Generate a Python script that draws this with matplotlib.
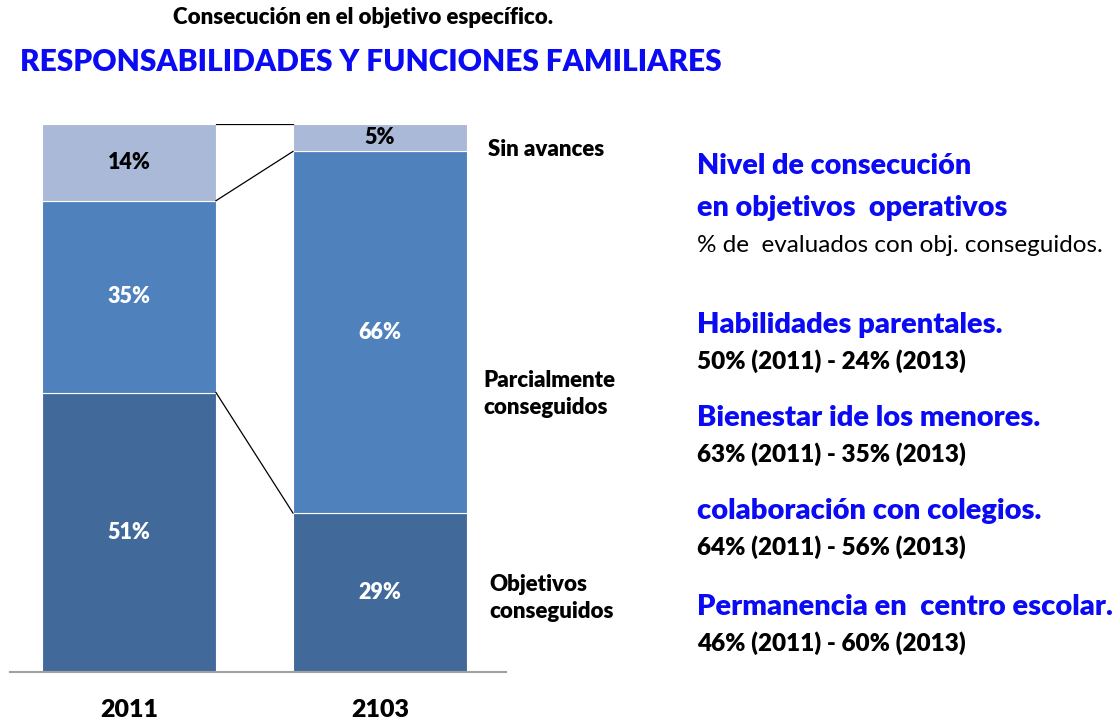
import matplotlib
matplotlib.use('Agg')
import matplotlib.pyplot as plt
import numpy as np

plt.rcParams['font.family'] = ['Lato', 'DejaVu Sans']
BW = 'heavy'

years = ['2011', '2103']
conseguidos = [51, 29]
parcial = [35, 66]
sin_avances = [14, 5]

c_dark = '#416A9B'
c_mid = '#4F81BD'
c_light = '#AAB9D7'
blue = '#0A0AF5'

W, H = 1120, 720
fig = plt.figure(figsize=(11.2, 7.2), dpi=100)

# axes for the stacked bars (pixel box: x 10..506, y 124..672)
ax = fig.add_axes([10 / W, (H - 672) / H, 496 / W, 548 / H])
x = np.arange(len(years))
bw = 0.693
s1 = np.array(conseguidos)
s2 = np.array(parcial)
s3 = np.array(sin_avances)
ax.bar(x, s1, bw, color=c_dark, edgecolor='white', linewidth=0.8)
ax.bar(x, s2, bw, bottom=s1, color=c_mid, edgecolor='white', linewidth=0.8)
ax.bar(x, s3, bw, bottom=s1 + s2, color=c_light, edgecolor='white', linewidth=0.8)

# lineas que unen las barras
for lvl in [s1, s1 + s2, s1 + s2 + s3]:
    ax.plot([x[0] + bw / 2, x[1] - bw / 2], [lvl[0], lvl[1]], color='black', lw=0.9)

for i in range(len(x)):
    ax.text(x[i], s1[i] / 2, f'{s1[i]}%', ha='center', va='center',
            color='white', fontsize=15.5, fontweight=BW)
    ax.text(x[i], s1[i] + s2[i] / 2, f'{s2[i]}%', ha='center', va='center',
            color='white', fontsize=15.5, fontweight=BW)
    ax.text(x[i], s1[i] + s2[i] + s3[i] / 2, f'{s3[i]}%', ha='center', va='center',
            color='black', fontsize=15.5, fontweight=BW)

ax.set_xlim(-0.474, 1.502)
ax.set_ylim(0, 100)
ax.set_yticks([])
ax.set_xticks([])
for sp in ['top', 'left', 'right']:
    ax.spines[sp].set_visible(False)
ax.spines['bottom'].set_color('#A0A0A0')
ax.spines['bottom'].set_linewidth(1.5)
for i in range(len(x)):
    ax.text(x[i], -7.0, years[i], ha='center', va='center', fontsize=18,
            fontweight=BW, clip_on=False)


def ftext(px, py, s, **kw):
    fig.text(px / W, 1 - py / H, s, **kw)


ftext(363, 18, 'Consecución en el objetivo específico.', ha='center', va='center',
      fontsize=16, fontweight=BW)
ftext(20, 62, 'RESPONSABILIDADES Y FUNCIONES FAMILIARES', ha='left', va='center',
      fontsize=21.5, fontweight=BW, color=blue)

ftext(488, 150, 'Sin avances', ha='left', va='center', fontsize=16, fontweight=BW)
ftext(483, 394, 'Parcialmente\nconseguidos', ha='left', va='center', fontsize=16,
      fontweight=BW, linespacing=1.4)
ftext(489, 598, 'Objetivos\nconseguidos', ha='left', va='center', fontsize=16,
      fontweight=BW, linespacing=1.4)

ftext(697, 166, 'Nivel de consecución', ha='left', va='center', fontsize=20.7,
      fontweight=BW, color=blue)
ftext(697, 208, 'en objetivos  operativos', ha='left', va='center', fontsize=20.7,
      fontweight=BW, color=blue)
ftext(697, 245, '% de  evaluados con obj. conseguidos.', ha='left', va='center',
      fontsize=17.5)

items = ['Habilidades parentales.', 'Bienestar ide los menores.',
         'colaboración con colegios.', 'Permanencia en  centro escolar.']
vals = ['50% (2011) - 24% (2013)', '63% (2011) - 35% (2013)',
        '64% (2011) - 56% (2013)', '46% (2011) - 60% (2013)']
ys = [325, 418, 511, 607]
for it, v, y in zip(items, vals, ys):
    ftext(697, y, it, ha='left', va='center', fontsize=21, fontweight=BW, color=blue)
    ftext(697, y + 36, v, ha='left', va='center', fontsize=17.5, fontweight=BW)

fig.savefig('out.png', dpi=100)
